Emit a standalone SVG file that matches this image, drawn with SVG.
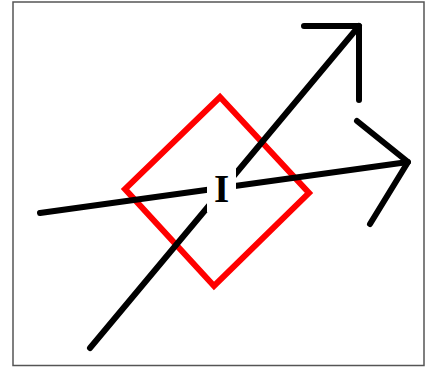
<svg xmlns="http://www.w3.org/2000/svg" width="425" height="367" viewBox="0 0 425 367">
<style>
.frame{fill:#fff;stroke:#555;stroke-width:1.5}
.edge{fill:none;stroke:#000;stroke-width:6;stroke-linecap:round;stroke-linejoin:round}
.shape{fill:none;stroke:#f00;stroke-width:6;stroke-linejoin:miter}
.lbl{font-family:"Liberation Serif",serif;font-weight:bold;font-size:39px;fill:#000;text-anchor:middle}
</style>
<rect class="frame" x="13" y="2" width="411" height="363.5"/>
<g id="diamond">
<polygon class="shape" points="220,97 309,193 214,286 125,189"/>
</g>
<g id="connectors">
<line class="edge" x1="90" y1="348" x2="359" y2="26"/>
<polyline class="edge" points="304,26 359,26 359,100"/>
<line class="edge" x1="40" y1="213" x2="408" y2="162"/>
<polyline class="edge" points="357,121 408,162 370,224"/>
</g>
<g id="label">
<rect x="207" y="168" width="29" height="44" fill="#fff"/>
<text class="lbl" x="221.5" y="202">I</text>
</g>
</svg>
